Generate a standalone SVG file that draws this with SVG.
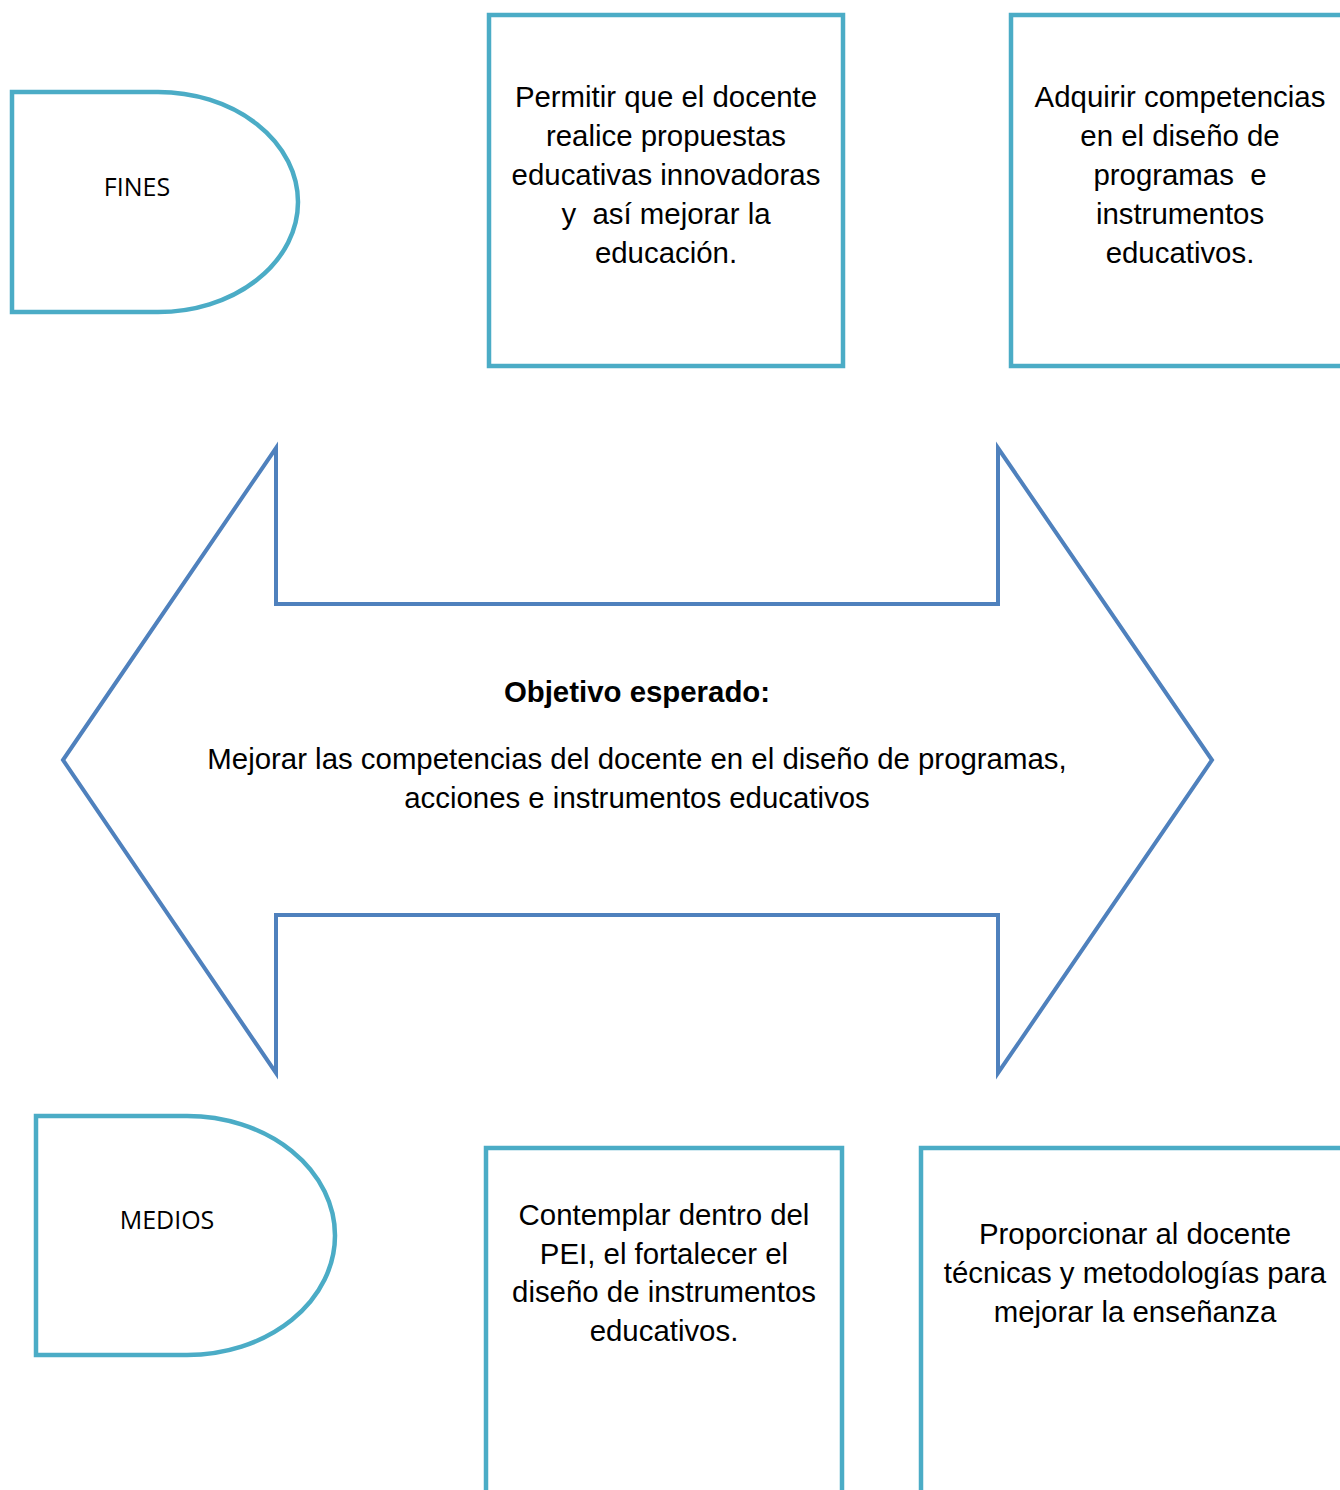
<svg xmlns="http://www.w3.org/2000/svg" width="1340" height="1490" viewBox="0 0 1340 1490">
<style>
.box{fill:#fff;stroke:#4BACC6;stroke-width:4.5}
.arrow{fill:#fff;stroke:#4F81BD;stroke-width:4;stroke-linejoin:miter}
.t{font-family:"Liberation Sans",Arial,sans-serif;font-size:29.4px;fill:#000;text-anchor:middle;white-space:pre}
.lbl{font-family:"Open Sans","Liberation Sans",sans-serif;font-size:25px;fill:#000;text-anchor:middle}
.b{font-weight:bold}
</style>
<rect width="1340" height="1490" fill="#fff"/>
<g id="connectors">
<path class="arrow" d="M63,760 L276,448 L276,604 L998,604 L998,448 L1212,760 L998,1073 L998,915 L276,915 L276,1073 Z"/>
</g>
<g id="objetivo">
<text class="t b" x="637" y="702">Objetivo esperado:</text>
<text class="t" x="637" y="769">Mejorar las competencias del docente en el diseño de programas,</text>
<text class="t" x="637" y="808">acciones e instrumentos educativos</text>
</g>
<g id="fines">
<path class="box" d="M12,92 H158 A140,110 0 0 1 158,312 H12 Z"/>
<text class="lbl" x="137" y="196">FINES</text>
</g>
<g id="fin1">
<rect class="box" x="489" y="15" width="354" height="351"/>
<text class="t" x="666" y="107">Permitir que el docente</text>
<text class="t" x="666" y="146">realice propuestas</text>
<text class="t" x="666" y="185">educativas innovadoras</text>
<text class="t" x="666" y="224" xml:space="preserve">y  así mejorar la</text>
<text class="t" x="666" y="263">educación.</text>
</g>
<g id="fin2">
<rect class="box" x="1011" y="15" width="340" height="351"/>
<text class="t" x="1180" y="107">Adquirir competencias</text>
<text class="t" x="1180" y="146">en el diseño de</text>
<text class="t" x="1180" y="185" xml:space="preserve">programas  e</text>
<text class="t" x="1180" y="224">instrumentos</text>
<text class="t" x="1180" y="263">educativos.</text>
</g>
<g id="medios">
<path class="box" d="M36,1116 H187 A148,119.5 0 0 1 187,1355 H36 Z"/>
<text class="lbl" x="167" y="1229">MEDIOS</text>
</g>
<g id="medio1">
<rect class="box" x="486" y="1148" width="356" height="360"/>
<text class="t" x="664" y="1225">Contemplar dentro del</text>
<text class="t" x="664" y="1264">PEI, el fortalecer el</text>
<text class="t" x="664" y="1302">diseño de instrumentos</text>
<text class="t" x="664" y="1341">educativos.</text>
</g>
<g id="medio2">
<rect class="box" x="921" y="1148" width="430" height="360"/>
<text class="t" x="1135" y="1244">Proporcionar al docente</text>
<text class="t" x="1135" y="1283">técnicas y metodologías para</text>
<text class="t" x="1135" y="1322">mejorar la enseñanza</text>
</g>
</svg>
